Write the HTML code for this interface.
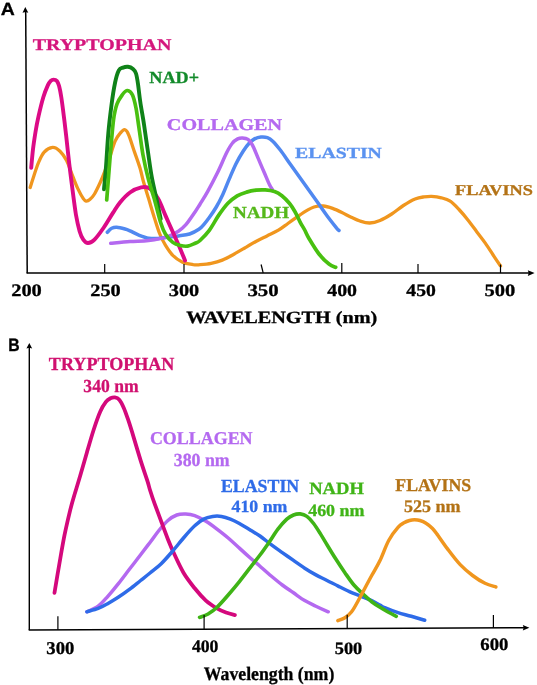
<!DOCTYPE html>
<html><head><meta charset="utf-8"><title>Autofluorescence spectra</title>
<style>
html,body{margin:0;padding:0;background:#fff;}
svg{display:block}
text{font-family:"Liberation Serif",serif;font-weight:bold;stroke-width:0.3px;paint-order:stroke;text-rendering:geometricPrecision}
.sans{font-family:"Liberation Sans",sans-serif;font-weight:bold}
path.c{fill:none;stroke-linecap:round;stroke-linejoin:round}
</style></head><body>
<svg width="537" height="685" viewBox="0 0 537 685">
<rect width="537" height="685" fill="#fff"/>
<path class="c" stroke="#f0961e" stroke-width="3.3" d="M30.2,187.5C30.8,185.5 32.6,179.6 34.0,175.4C35.4,171.2 36.9,166.2 38.6,162.3C40.3,158.4 41.9,154.6 44.2,152.1C46.5,149.6 50.0,147.6 52.6,147.4C55.2,147.2 57.7,149.0 60.0,151.2C62.3,153.4 64.6,156.6 66.6,160.5C68.6,164.4 70.2,169.8 72.1,174.5C73.9,179.2 75.8,184.4 77.7,188.4C79.6,192.4 81.9,196.6 83.3,198.7C84.7,200.8 85.0,200.9 86.1,201.1C87.2,201.2 88.4,200.8 89.8,199.6C91.2,198.4 92.8,196.8 94.5,194.0C96.2,191.2 98.4,186.5 100.1,182.8C101.8,179.1 103.2,175.7 104.7,171.7C106.2,167.7 107.7,163.7 109.4,158.6C111.1,153.5 113.3,145.4 115.1,141.2C116.9,137.0 118.4,135.4 120.0,133.5C121.6,131.6 123.1,129.6 124.5,129.7C125.9,129.8 126.8,130.6 128.3,134.0C129.9,137.4 131.9,144.3 133.8,150.0C135.8,155.7 138.5,163.0 140.0,168.0C141.5,173.0 141.6,174.9 143.0,180.0C144.4,185.1 146.7,192.4 148.6,198.6C150.5,204.8 152.3,211.3 154.2,217.2C156.1,223.1 157.9,229.3 159.8,234.0C161.7,238.7 163.2,241.6 165.4,245.2C167.6,248.8 170.0,252.6 172.8,255.4C175.6,258.2 178.7,260.4 182.1,262.0C185.5,263.6 190.3,264.2 193.3,264.7C196.3,265.1 197.0,264.9 200.0,264.7C203.0,264.5 207.5,264.2 211.2,263.4C214.9,262.6 218.6,261.6 222.3,260.1C226.0,258.6 229.8,256.5 233.5,254.5C237.2,252.5 241.0,250.2 244.7,248.0C248.4,245.8 252.2,243.5 255.9,241.5C259.6,239.5 263.2,237.8 267.0,235.9C270.8,234.0 274.9,232.3 278.4,230.2C281.9,228.1 284.8,225.7 287.9,223.5C291.0,221.3 294.1,219.0 297.2,216.8C300.3,214.7 303.8,212.2 306.6,210.6C309.4,209.0 311.2,207.8 314.0,207.0C316.8,206.2 320.2,205.8 323.3,206.0C326.4,206.2 329.5,207.3 332.6,208.4C335.7,209.5 338.8,211.0 341.9,212.5C345.0,214.0 348.2,215.8 351.2,217.2C354.2,218.6 356.9,220.0 360.0,221.0C363.1,222.0 366.4,223.1 369.7,223.0C373.0,222.9 376.3,222.0 380.0,220.5C383.7,219.0 387.8,216.5 391.7,214.0C395.6,211.5 399.5,208.0 403.4,205.5C407.3,203.0 411.7,200.4 415.1,199.0C418.5,197.6 421.2,197.3 423.9,196.9C426.6,196.5 428.6,196.2 431.5,196.3C434.4,196.5 438.3,197.0 441.4,197.8C444.5,198.6 447.3,199.2 450.2,201.2C453.1,203.1 456.1,206.4 459.0,209.5C461.9,212.6 464.8,216.0 467.7,219.7C470.6,223.3 473.6,227.5 476.5,231.4C479.4,235.3 482.4,238.9 485.3,243.1C488.2,247.2 491.5,252.5 494.0,256.3C496.5,260.1 499.4,264.3 500.5,265.9"/>
<path class="c" stroke="#5088f0" stroke-width="3.5" d="M107.3,232.3C108.0,231.6 110.1,229.1 111.7,228.3C113.3,227.5 114.5,227.2 116.7,227.3C118.9,227.4 122.8,228.4 125.0,229.0C127.2,229.6 127.6,229.8 130.0,230.8C132.4,231.9 136.2,234.1 139.3,235.3C142.4,236.5 145.5,237.7 148.6,238.2C151.7,238.7 154.8,238.7 157.9,238.5C161.0,238.3 163.8,237.6 167.2,237.2C170.6,236.8 174.7,236.4 178.4,235.9C182.1,235.4 186.2,235.1 189.6,234.0C193.0,232.9 196.5,230.9 198.9,229.3C201.3,227.7 202.3,226.3 204.0,224.3C205.7,222.3 207.2,220.4 209.3,217.5C211.4,214.6 214.1,210.8 216.3,207.0C218.6,203.2 220.6,199.2 222.8,194.5C225.0,189.8 227.1,184.0 229.3,178.9C231.5,173.8 233.6,168.7 235.9,164.0C238.2,159.3 241.1,154.4 243.3,151.0C245.5,147.6 247.0,145.5 248.9,143.5C250.8,141.5 252.5,140.0 254.5,138.9C256.5,137.8 258.9,137.2 261.0,137.0C263.1,136.8 265.4,136.9 267.4,137.6C269.4,138.3 270.8,139.3 273.0,141.4C275.2,143.5 277.7,146.6 280.5,150.3C283.3,154.0 286.7,159.1 289.8,163.5C292.9,167.9 296.0,172.2 299.1,176.6C302.2,180.9 305.3,185.3 308.4,189.6C311.5,193.9 314.6,198.2 317.7,202.6C320.8,206.9 323.9,211.5 327.0,215.7C330.1,219.9 334.4,225.3 336.4,227.8C338.4,230.3 338.6,230.1 339.0,230.5"/>
<path class="c" stroke="#b469f0" stroke-width="3.5" d="M110.7,243.3C113.9,243.0 123.7,242.0 130.0,241.5C136.3,241.0 142.4,241.3 148.6,240.5C154.8,239.7 162.2,238.4 167.2,236.8C172.2,235.2 175.3,233.2 178.4,231.2C181.5,229.2 183.1,227.9 185.9,224.7C188.7,221.4 192.8,215.1 195.2,211.7C197.5,208.3 197.9,207.5 200.0,204.2C202.1,200.8 204.7,196.8 207.6,191.6C210.5,186.4 214.0,179.8 217.2,173.3C220.4,166.8 224.1,157.8 226.6,152.8C229.1,147.8 230.2,145.8 232.1,143.5C233.9,141.2 236.0,139.8 237.7,138.9C239.4,138.0 240.7,137.8 242.4,137.9C244.1,138.0 246.3,138.2 248.0,139.4C249.7,140.7 250.9,142.2 252.6,145.4C254.3,148.6 256.3,154.1 258.2,158.4C260.1,162.8 261.9,167.2 263.8,171.5C265.7,175.8 268.0,181.6 269.4,184.5C270.8,187.4 271.7,188.3 272.2,189.1"/>
<path class="c" stroke="#dc0a86" stroke-width="3.9" d="M31.2,167.9C31.5,164.8 32.3,155.3 33.0,149.3C33.7,143.3 34.6,137.6 35.5,132.0C36.4,126.4 37.3,121.7 38.6,115.9C39.9,110.1 41.8,102.3 43.3,97.2C44.8,92.1 46.7,87.8 47.9,85.1C49.1,82.4 49.8,81.8 50.7,80.9C51.6,80.0 52.5,79.6 53.5,79.6C54.5,79.6 56.0,79.8 56.9,80.9C57.8,82.0 58.4,83.4 59.1,86.1C59.8,88.8 60.5,92.2 61.3,97.2C62.1,102.2 63.0,109.4 63.8,115.9C64.6,122.4 65.3,128.0 66.2,136.0C67.1,144.1 68.3,155.8 69.3,164.2C70.3,172.6 71.0,178.2 72.1,186.6C73.2,195.0 74.7,207.1 75.9,214.5C77.2,221.9 78.4,227.0 79.6,231.2C80.8,235.4 81.9,237.6 83.3,239.6C84.7,241.6 86.1,243.0 88.0,243.0C89.9,243.0 91.9,242.2 94.5,239.6C97.1,237.0 100.7,232.0 103.8,227.5C106.9,223.0 110.4,216.8 113.1,212.6C115.8,208.4 117.2,205.8 120.0,202.4C122.8,199.1 126.5,195.0 130.0,192.5C133.5,190.0 137.9,188.1 141.2,187.4C144.4,186.7 146.7,186.5 149.5,188.4C152.3,190.3 155.3,194.1 158.0,198.6C160.7,203.1 162.9,209.8 165.4,215.4C167.9,221.0 170.3,226.4 172.8,232.0C175.3,237.6 178.3,244.2 180.3,248.9C182.3,253.7 184.2,258.6 185.0,260.5"/>
<path class="c" stroke="#0f8218" stroke-width="3.9" d="M104.0,189.3C104.3,185.5 105.3,176.0 106.0,166.7C106.7,157.4 107.4,143.6 108.3,133.3C109.2,123.0 110.4,113.5 111.5,105.0C112.6,96.5 113.9,88.3 115.1,82.5C116.3,76.7 117.5,72.8 118.8,70.3C120.1,67.8 121.5,68.2 123.0,67.6C124.5,67.0 126.2,66.6 127.9,66.8C129.6,67.0 131.7,67.9 133.0,69.0C134.3,70.1 135.2,71.0 136.0,73.5C136.8,76.0 137.3,79.2 138.0,84.0C138.7,88.8 139.3,95.2 140.3,102.0C141.3,108.8 142.8,116.5 144.0,124.5C145.2,132.5 146.4,141.3 147.7,150.0C149.0,158.7 150.2,168.4 151.7,176.7C153.2,185.0 155.2,192.9 156.7,200.0C158.2,207.1 160.0,215.8 160.7,219.0"/>
<path class="c" stroke="#48c010" stroke-width="3.7" d="M106.7,200.0C107.0,196.7 107.6,188.3 108.3,180.0C109.0,171.7 109.8,160.0 110.7,150.0C111.6,140.0 112.5,127.7 113.5,120.0C114.5,112.3 115.5,108.2 117.0,104.0C118.5,99.8 120.8,96.8 122.5,94.5C124.2,92.2 125.8,90.4 127.5,90.5C129.2,90.6 131.1,92.1 132.5,95.0C133.9,97.9 134.9,102.5 136.0,108.0C137.1,113.5 137.8,120.2 139.0,128.0C140.2,135.8 141.4,146.3 143.0,155.0C144.6,163.7 146.7,172.7 148.6,180.0C150.5,187.3 152.2,191.5 154.2,198.6C156.2,205.7 158.8,216.9 160.7,222.8C162.6,228.7 163.4,230.7 165.4,234.0C167.4,237.3 170.3,240.5 172.8,242.4C175.3,244.3 177.8,244.9 180.3,245.5C182.8,246.1 185.2,246.5 187.7,246.1C190.2,245.7 193.1,244.2 195.2,243.3C197.2,242.4 197.7,242.7 200.0,240.5C202.3,238.3 206.2,234.5 209.3,230.3C212.4,226.1 215.5,219.9 218.6,215.4C221.7,210.9 224.8,206.6 227.9,203.3C231.0,200.0 234.1,197.7 237.2,195.8C240.3,193.9 243.5,193.0 246.6,192.1C249.7,191.2 252.8,190.6 255.9,190.2C259.0,189.8 262.1,189.7 265.2,189.9C268.3,190.1 271.7,190.5 274.5,191.5C277.3,192.5 279.4,193.8 281.9,195.8C284.4,197.8 287.2,200.7 289.4,203.3C291.6,206.0 293.2,208.6 295.0,211.7C296.8,214.8 298.4,218.8 300.0,221.9C301.6,225.0 303.2,227.2 304.7,230.0C306.2,232.8 306.6,234.5 309.0,238.5C311.4,242.5 315.7,249.8 319.0,254.0C322.3,258.2 326.2,261.8 329.0,264.0C331.8,266.2 334.6,266.8 335.7,267.3"/>
<path class="c" stroke="#b469f0" stroke-width="3.5" d="M86.9,611.8C88.8,610.9 94.8,608.6 98.1,606.2C101.4,603.8 103.7,601.0 107.0,597.3C110.3,593.6 114.5,588.6 118.2,583.9C121.9,579.2 125.7,574.1 129.4,569.3C133.1,564.4 137.2,559.3 140.6,554.8C144.0,550.3 146.9,546.5 150.0,542.5C153.1,538.5 155.9,534.2 158.9,530.5C161.9,526.8 164.9,523.1 167.9,520.5C170.9,517.9 173.8,516.1 176.8,515.0C179.8,513.9 182.8,514.0 185.8,514.1C188.8,514.2 191.3,514.5 194.7,515.7C198.0,516.9 202.2,519.1 205.9,521.3C209.6,523.5 213.3,526.3 217.0,529.1C220.7,531.9 224.5,534.8 228.2,538.0C231.9,541.2 235.7,544.7 239.4,548.1C243.1,551.5 247.2,555.2 250.6,558.2C254.0,561.2 256.6,563.2 260.0,566.2C263.4,569.2 267.5,572.9 271.2,576.0C274.9,579.1 278.6,582.2 282.3,585.0C286.0,587.8 289.8,590.2 293.5,592.8C297.2,595.4 301.0,598.4 304.7,600.6C308.4,602.8 312.0,604.3 315.9,606.2C319.8,608.1 326.1,610.9 328.2,611.8"/>
<path class="c" stroke="#d4087c" stroke-width="3.8" d="M54.5,592.8C55.2,588.3 57.3,575.7 59.0,566.0C60.7,556.3 62.7,544.0 64.6,534.7C66.5,525.4 68.5,517.1 70.2,510.1C71.9,503.2 73.3,498.7 75.0,493.0C76.7,487.3 78.2,482.6 80.2,475.8C82.2,469.1 84.7,460.1 86.9,452.5C89.1,444.9 91.4,436.8 93.6,430.0C95.8,423.2 98.2,416.2 100.3,411.5C102.3,406.8 104.2,404.1 105.9,401.9C107.6,399.7 108.9,399.1 110.4,398.3C111.9,397.6 113.4,397.2 114.9,397.4C116.4,397.6 117.8,397.9 119.3,399.7C120.8,401.4 122.3,404.5 123.8,407.9C125.3,411.3 126.6,415.2 128.3,420.2C130.0,425.2 131.9,431.4 133.9,438.1C135.9,444.8 138.4,453.3 140.6,460.4C142.8,467.5 145.7,475.7 147.3,480.6C148.9,485.5 148.8,486.2 150.0,490.0C151.2,493.8 152.6,498.2 154.5,503.4C156.4,508.6 159.0,515.3 161.2,521.3C163.4,527.3 165.7,533.6 167.9,539.2C170.1,544.8 172.0,549.2 174.6,554.8C177.2,560.4 180.2,567.1 183.5,572.7C186.8,578.3 191.0,583.6 194.7,588.3C198.4,592.9 202.2,597.2 205.9,600.6C209.6,604.0 213.7,606.4 217.0,608.4C220.3,610.4 223.0,611.4 226.0,612.5C229.0,613.6 233.4,614.7 234.9,615.1"/>
<path class="c" stroke="#2e6be8" stroke-width="3.5" d="M86.9,611.8C88.8,611.2 94.8,609.7 98.1,608.4C101.4,607.1 103.7,605.9 107.0,604.0C110.3,602.1 114.5,599.7 118.2,597.3C121.9,594.9 125.7,592.2 129.4,589.4C133.1,586.6 137.2,583.2 140.6,580.5C144.0,577.8 146.6,575.8 150.0,573.0C153.4,570.2 157.5,567.3 161.2,563.7C164.9,560.1 168.6,555.8 172.3,551.5C176.0,547.2 179.8,542.3 183.5,538.0C187.2,533.7 191.3,528.9 194.7,525.8C198.0,522.6 200.6,520.7 203.6,519.1C206.6,517.5 209.6,516.9 212.6,516.4C215.6,515.9 218.5,515.9 221.5,516.4C224.5,516.9 227.4,517.9 230.4,519.1C233.4,520.3 236.0,521.6 239.4,523.5C242.8,525.4 247.2,528.1 250.6,530.2C254.0,532.3 256.6,533.6 260.0,536.0C263.4,538.4 267.5,541.9 271.2,544.7C274.9,547.5 278.6,550.0 282.3,552.6C286.0,555.2 289.8,557.8 293.5,560.4C297.2,563.0 301.0,565.8 304.7,568.2C308.4,570.6 312.2,572.9 315.9,574.9C319.6,576.9 323.3,578.6 327.0,580.5C330.7,582.4 334.5,584.2 338.2,586.1C341.9,588.0 345.7,590.0 349.4,591.7C353.1,593.4 356.9,594.6 360.6,596.1C364.3,597.6 368.5,599.1 371.7,600.6C374.9,602.1 377.8,603.9 380.0,605.1C382.2,606.3 381.7,606.4 384.7,607.7C387.7,609.0 393.6,611.3 398.0,612.7C402.4,614.1 406.9,615.0 411.3,616.3C415.8,617.6 422.5,619.6 424.7,620.3"/>
<path class="c" stroke="#3fb416" stroke-width="3.6" d="M199.6,617.4C201.0,616.8 205.2,615.7 208.1,614.0C211.0,612.3 213.7,610.5 217.0,607.3C220.3,604.1 224.5,599.3 228.2,595.0C231.9,590.7 235.7,586.2 239.4,581.6C243.1,577.0 247.2,571.5 250.6,567.1C254.0,562.7 256.9,559.1 260.0,555.0C263.1,550.9 265.9,546.8 268.9,542.5C271.9,538.2 274.9,533.0 277.9,529.1C280.9,525.2 284.2,521.5 286.8,519.1C289.4,516.8 291.3,515.9 293.5,515.0C295.7,514.1 298.0,513.7 300.2,513.9C302.4,514.1 304.7,514.8 306.9,516.4C309.1,518.0 311.4,520.6 313.6,523.5C315.8,526.4 318.1,530.1 320.3,533.6C322.5,537.1 324.4,540.4 327.0,544.7C329.6,549.0 333.0,554.6 336.0,559.3C339.0,564.0 341.9,568.4 344.9,572.7C347.9,577.0 350.9,581.5 353.9,585.0C356.9,588.5 359.8,591.1 362.8,593.9C365.8,596.7 368.8,599.5 371.7,601.7C374.6,603.9 377.3,605.6 380.0,607.3C382.7,609.0 385.3,610.5 388.0,612.0C390.7,613.5 394.9,615.6 396.3,616.3"/>
<path class="c" stroke="#f0961e" stroke-width="3.5" d="M337.8,620.7C339.0,620.2 342.6,619.3 344.9,617.8C347.2,616.3 349.4,614.7 351.6,611.8C353.8,608.9 356.1,604.5 358.3,600.5C360.5,596.5 362.8,592.2 365.0,588.0C367.2,583.8 369.2,580.1 371.7,575.5C374.2,570.9 377.2,566.3 380.0,560.5C382.8,554.7 385.7,546.0 388.7,540.5C391.7,535.0 395.4,530.2 398.0,527.3C400.6,524.3 402.1,523.9 404.0,522.8C405.9,521.7 407.8,521.0 409.5,520.5C411.2,520.0 412.8,519.8 414.5,519.8C416.2,519.8 418.1,519.9 420.0,520.5C421.9,521.1 423.9,521.9 426.0,523.2C428.1,524.5 430.5,526.5 432.5,528.5C434.5,530.5 435.5,532.1 438.0,535.5C440.5,538.9 444.0,544.2 447.7,549.1C451.4,554.0 456.0,560.2 460.2,564.6C464.4,569.0 468.5,572.4 472.6,575.5C476.7,578.6 481.1,581.4 485.0,583.3C488.9,585.2 494.1,586.4 495.9,587.0"/>
<path d="M25.7,11L27.2,273.2" fill="none" stroke="#000" stroke-width="1.5"/>
<path d="M26.6,272.9L529,273.1" fill="none" stroke="#000" stroke-width="1.5"/>
<path d="M25.3,7L22.5,12.8L25.5,11.9L28.3,12.8Z" fill="#000"/>
<path d="M534.6,273.1L527.8,270.3L528.7,273.1L527.8,275.9Z" fill="#000"/>
<path d="M104.7,264L104.7,273" stroke="#000" stroke-width="1.2"/>
<path d="M184,264L184,273" stroke="#000" stroke-width="1.2"/>
<path d="M261.1,264.5L263.2,273" stroke="#000" stroke-width="1.2"/>
<path d="M341.8,263L341.8,273" stroke="#000" stroke-width="1.2"/>
<path d="M418,264L418,273" stroke="#000" stroke-width="1.2"/>
<path d="M500.5,264.5L500.5,273" stroke="#000" stroke-width="1.2"/>
<path d="M29.3,347V630" fill="none" stroke="#000" stroke-width="1.4"/>
<path d="M28.7,629.9L524,627.8" fill="none" stroke="#000" stroke-width="1.5"/>
<path d="M29.3,343L26.4,348.6L29.3,347.7L32.2,348.6Z" fill="#000"/>
<path d="M529.4,627.7L522.8,625L523.7,627.7L522.8,630.4Z" fill="#000"/>
<path d="M57.9,616.3V629.8" stroke="#000" stroke-width="1.2"/>
<path d="M204.1,615.1V629.2" stroke="#000" stroke-width="1.2"/>
<path d="M347.2,614.7V628.6" stroke="#000" stroke-width="1.2"/>
<path d="M493.4,615V628" stroke="#000" stroke-width="1.2"/>
<text class="sans" x="0.87" y="15" font-size="17.67" fill="#000" stroke="#000" textLength="14.06" lengthAdjust="spacingAndGlyphs">A</text>
<text class="sans" x="8.17" y="351" font-size="18.06" fill="#000" stroke="#000" textLength="11.41" lengthAdjust="spacingAndGlyphs">B</text>
<text x="32.67" y="50" font-size="16.37" fill="#d4167c" stroke="#d4167c" textLength="138.66" lengthAdjust="spacingAndGlyphs">TRYPTOPHAN</text>
<text x="149.37" y="83" font-size="16.91" fill="#128a2a" stroke="#128a2a" textLength="49.68" lengthAdjust="spacingAndGlyphs">NAD+</text>
<text x="166.88" y="130" font-size="16.46" fill="#b469f0" stroke="#b469f0" textLength="115.19" lengthAdjust="spacingAndGlyphs">COLLAGEN</text>
<text x="295.07" y="158" font-size="15.46" fill="#5a92f0" stroke="#5a92f0" textLength="86.86" lengthAdjust="spacingAndGlyphs">ELASTIN</text>
<text x="232.97" y="218" font-size="16.83" fill="#55b81a" stroke="#55b81a" textLength="56.17" lengthAdjust="spacingAndGlyphs">NADH</text>
<text x="455.06" y="195" font-size="15.02" fill="#b37215" stroke="#b37215" textLength="77.83" lengthAdjust="spacingAndGlyphs">FLAVINS</text>
<text x="11.16" y="296" font-size="17.6" fill="#000" stroke="#000" textLength="30.68" lengthAdjust="spacingAndGlyphs">200</text>
<text x="90.34" y="296" font-size="17.47" fill="#000" stroke="#000" textLength="30.45" lengthAdjust="spacingAndGlyphs">250</text>
<text x="168.8" y="296" font-size="17.49" fill="#000" stroke="#000" textLength="30.4" lengthAdjust="spacingAndGlyphs">300</text>
<text x="247.4" y="296" font-size="17.46" fill="#000" stroke="#000" textLength="31.19" lengthAdjust="spacingAndGlyphs">350</text>
<text x="327.25" y="296" font-size="17.45" fill="#000" stroke="#000" textLength="29.78" lengthAdjust="spacingAndGlyphs">400</text>
<text x="406.33" y="296" font-size="17.45" fill="#000" stroke="#000" textLength="29.5" lengthAdjust="spacingAndGlyphs">450</text>
<text x="484.41" y="296" font-size="17.5" fill="#000" stroke="#000" textLength="30.8" lengthAdjust="spacingAndGlyphs">500</text>
<text x="186.15" y="323" font-size="17.19" fill="#000" stroke="#000" textLength="191.19" lengthAdjust="spacingAndGlyphs">WAVELENGTH (nm)</text>
<text x="48.86" y="370" font-size="18.49" fill="#d0106f" stroke="#d0106f" textLength="125.55" lengthAdjust="spacingAndGlyphs">TRYPTOPHAN</text>
<text x="83.36" y="392" font-size="18.41" fill="#d0106f" stroke="#d0106f" textLength="55.24" lengthAdjust="spacingAndGlyphs">340 nm</text>
<text x="149.89" y="444" font-size="18.03" fill="#b469f0" stroke="#b469f0" textLength="102.68" lengthAdjust="spacingAndGlyphs">COLLAGEN</text>
<text x="173.8" y="466" font-size="18.45" fill="#b469f0" stroke="#b469f0" textLength="55.84" lengthAdjust="spacingAndGlyphs">380 nm</text>
<text x="220.89" y="492" font-size="18.38" fill="#2e6be8" stroke="#2e6be8" textLength="78.33" lengthAdjust="spacingAndGlyphs">ELASTIN</text>
<text x="231.47" y="512" font-size="17.19" fill="#2e6be8" stroke="#2e6be8" textLength="55.99" lengthAdjust="spacingAndGlyphs">410 nm</text>
<text x="309.21" y="494" font-size="17.24" fill="#3fb416" stroke="#3fb416" textLength="54.62" lengthAdjust="spacingAndGlyphs">NADH</text>
<text x="308.16" y="516" font-size="17.09" fill="#3fb416" stroke="#3fb416" textLength="56.38" lengthAdjust="spacingAndGlyphs">460 nm</text>
<text x="395.36" y="491" font-size="17.97" fill="#b37215" stroke="#b37215" textLength="75.75" lengthAdjust="spacingAndGlyphs">FLAVINS</text>
<text x="403.99" y="512" font-size="17.71" fill="#b37215" stroke="#b37215" textLength="56.59" lengthAdjust="spacingAndGlyphs">525 nm</text>
<text x="46.34" y="654" font-size="18.05" fill="#000" stroke="#000" textLength="27.99" lengthAdjust="spacingAndGlyphs">300</text>
<text x="191.89" y="652" font-size="17.75" fill="#000" stroke="#000" textLength="26.59" lengthAdjust="spacingAndGlyphs">400</text>
<text x="334.76" y="654" font-size="17.4" fill="#000" stroke="#000" textLength="27.52" lengthAdjust="spacingAndGlyphs">500</text>
<text x="480.39" y="650" font-size="17.65" fill="#000" stroke="#000" textLength="28.05" lengthAdjust="spacingAndGlyphs">600</text>
<text x="203.8" y="680" font-size="18.94" fill="#000" stroke="#000" textLength="130.5" lengthAdjust="spacingAndGlyphs">Wavelength (nm)</text>
</svg>
</body></html>
